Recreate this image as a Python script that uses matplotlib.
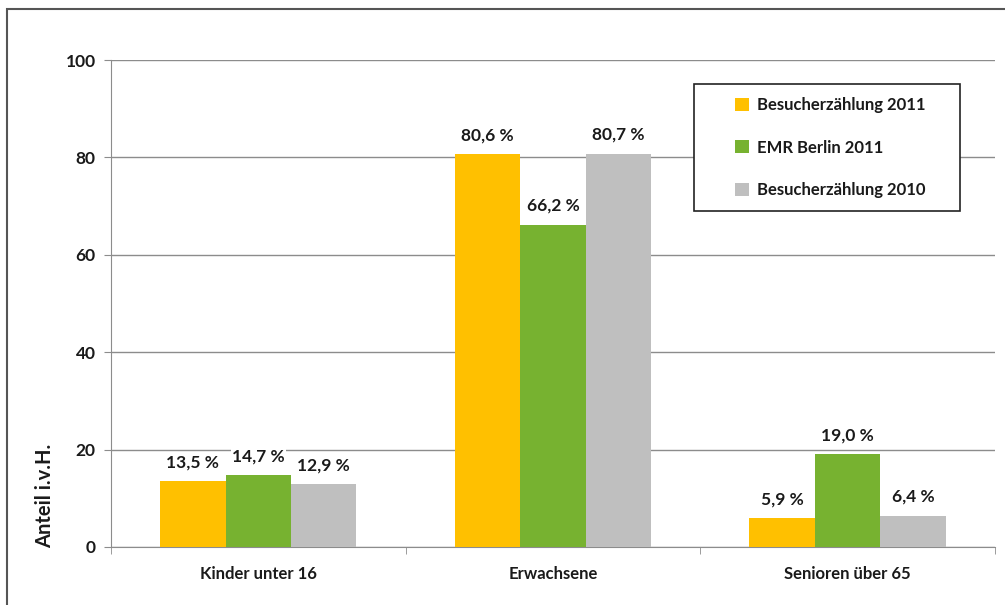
import numpy as np
import matplotlib
matplotlib.use('Agg')
import matplotlib.pyplot as plt
from matplotlib.patches import Rectangle

# Altersstruktur der Besucher
categories = ['Kinder unter 16', 'Erwachsene', 'Senioren über 65']
series_names = ['Besucherzählung 2011', 'EMR Berlin 2011', 'Besucherzählung 2010']
besucher_2011 = [13.5, 80.6, 5.9]
emr_2011 = [14.7, 66.2, 19.0]
besucher_2010 = [12.9, 80.7, 6.4]
colors = ['#FFC000', '#77B230', '#BFBFBF']

plt.rcParams['font.family'] = ['Lato', 'DejaVu Sans']
text_color = '#1a1a1a'

W, H = 1005, 605
fig = plt.figure(figsize=(W / 100, H / 100), dpi=100)
ax = fig.add_axes([0.1104, 0.0959, 0.8796, 0.8049])

# outer frame (only left and top edges visible)
fig.patches.append(Rectangle((7 / W, -0.1), 1.2, 1 - 9 / H + 0.1,
                             transform=fig.transFigure, fill=False,
                             edgecolor='#555555', linewidth=1.5, zorder=0))

x = np.arange(len(categories))
width = 0.222
for i, (vals, name, col) in enumerate(zip([besucher_2011, emr_2011, besucher_2010],
                                          series_names, colors)):
    pos = x + (i - 1) * width
    ax.bar(pos, vals, width=width, color=col, label=name, zorder=3)
    for px, v in zip(pos, vals):
        ax.text(px, v + 3.9, f'{v:.1f} %'.replace('.', ','), ha='center',
                va='center', fontsize=12.5, fontweight='bold', color=text_color,
                zorder=4, bbox=dict(facecolor='white', edgecolor='none', pad=1))

ax.set_xlim(-0.5, 2.5)
ax.set_ylim(0, 100)
ax.set_yticks(range(0, 101, 20))
ax.yaxis.grid(True, color='#8c8c8c', linewidth=1)
ax.set_axisbelow(True)
ax.tick_params(axis='y', length=5, color='#8c8c8c', labelsize=12.5, pad=6,
               labelcolor=text_color)
for lbl in ax.get_yticklabels():
    lbl.set_fontweight('bold')

# category labels with separator ticks between groups
ax.set_xticks(x)
ax.set_xticklabels(categories, fontsize=12, fontweight='bold', color=text_color)
ax.tick_params(axis='x', length=0, pad=14)
ax.set_xticks(np.arange(-0.5, 2.6, 1), minor=True)
ax.tick_params(axis='x', which='minor', length=5, color='#8c8c8c')

for side in ['top', 'right']:
    ax.spines[side].set_visible(False)
for side in ['left', 'bottom']:
    ax.spines[side].set_color('#8c8c8c')

fig.text(45 / W, 1 - 548 / H, 'Anteil i.v.H.', rotation=90, ha='center',
         va='bottom', fontsize=14.5, fontweight='bold', color=text_color)

# legend box drawn separately, entries placed inside without frame
ax.add_patch(Rectangle((694 / W, 1 - 211 / H), 266 / W, 127 / H,
                       transform=fig.transFigure, facecolor='white',
                       edgecolor='#222222', linewidth=1.2, zorder=5,
                       clip_on=False))
leg = ax.legend(loc='upper left', bbox_to_anchor=(735 / W, 1 - 97 / H),
                bbox_transform=fig.transFigure, frameon=False, fontsize=12,
                handlelength=0.84, handleheight=0.84, labelspacing=1.6,
                borderpad=0, handletextpad=0.5, borderaxespad=0)
leg.set_zorder(6)
for t in leg.get_texts():
    t.set_fontweight('bold')
    t.set_color(text_color)

fig.savefig('out.png', dpi=100)
